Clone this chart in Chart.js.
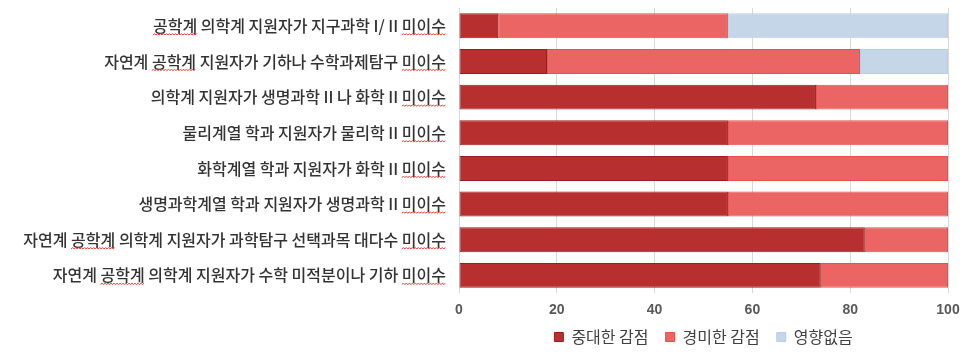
<!DOCTYPE html>
<html><head><meta charset="utf-8">
<script src="https://cdn.jsdelivr.net/npm/chart.js@4"></script>
<style>html,body{margin:0;padding:0;background:#fff;overflow:hidden}</style>
</head><body>
<canvas id="c" width="966" height="358"></canvas>
<script>
const categories = [
  '공학계 의학계 지원자가 지구과학 I/ II 미이수',
  '자연계 공학계 지원자가 기하나 수학과제탐구 미이수',
  '의학계 지원자가 생명과학 II 나 화학 II 미이수',
  '물리계열 학과 지원자가 물리학 II 미이수',
  '화학계열 학과 지원자가 화학 II 미이수',
  '생명과학계열 학과 지원자가 생명과학 II 미이수',
  '자연계 공학계 의학계 지원자가 과학탐구 선택과목 대다수 미이수',
  '자연계 공학계 의학계 지원자가 수학 미적분이나 기하 미이수'
];
const seriesNames = ['중대한 감점', '경미한 감점', '영향없음'];
const majorDeduction = [8, 18, 73, 55, 55, 55, 83, 74];
const minorDeduction = [47, 64, 27, 45, 45, 45, 17, 26];
const noEffect = [45, 18, 0, 0, 0, 0, 0, 0];
const xTickValues = [0, 20, 40, 60, 80, 100];

const CJK = '"Noto Sans CJK KR", "Noto Sans", sans-serif';
const LABEL_SIZE = 16;
const LABEL_WEIGHT = 500;
const LABEL_PAD = 13;

const wavyPlugin = {
  id: 'wavy',
  afterDraw(chart) {
    const sc = chart.scales.y;
    const ctx = chart.ctx;
    ctx.save();
    ctx.font = LABEL_WEIGHT + ' ' + LABEL_SIZE + 'px ' + CJK;
    ctx.strokeStyle = '#e23b3b';
    ctx.lineWidth = 1;
    const rightX = sc.right - LABEL_PAD;
    categories.forEach((lab, i) => {
      const y = sc.getPixelForTick(i) + 9;
      const full = ctx.measureText(lab).width;
      const start = rightX - full;
      const words = [];
      const gi = lab.indexOf('공학계');
      if (gi >= 0) words.push(gi);
      const mi = lab.lastIndexOf('미이수');
      if (mi >= 0) words.push(mi);
      words.forEach(idx => {
        const x0 = start + ctx.measureText(lab.slice(0, idx)).width;
        const x1 = x0 + ctx.measureText(lab.slice(idx, idx + 3)).width;
        ctx.beginPath();
        let up = true;
        ctx.moveTo(x0, y);
        for (let x = x0 + 1.5; x <= x1 + 0.01; x += 1.5) {
          ctx.lineTo(x, up ? y - 1 : y);
          up = !up;
        }
        ctx.stroke();
      });
    });
    ctx.restore();
  }
};

const chart = new Chart(document.getElementById('c'), {
  type: 'bar',
  data: {
    labels: categories,
    datasets: [
      { label: seriesNames[0], data: majorDeduction, backgroundColor: '#b72f2f', borderColor: '#a01c1c', borderWidth: 1, borderSkipped: false },
      { label: seriesNames[1], data: minorDeduction, backgroundColor: '#ec6565', borderColor: '#e84f4f', borderWidth: 1, borderSkipped: false },
      { label: seriesNames[2], data: noEffect, backgroundColor: '#c5d6e8', borderColor: '#b8cfe8', borderWidth: 1, borderSkipped: false }
    ]
  },
  options: {
    indexAxis: 'y',
    responsive: false,
    animation: false,
    devicePixelRatio: 1,
    layout: { padding: { top: 8, right: 18, left: 0, bottom: 3 } },
    datasets: { bar: { barPercentage: 0.7, categoryPercentage: 1.0 } },
    scales: {
      x: {
        stacked: true,
        min: 0, max: 100,
        afterBuildTicks(scale) { scale.ticks = xTickValues.map(v => ({ value: v })); },
        afterFit(scale) { scale.paddingLeft = 0; scale.paddingRight = 0; },
        grid: { color: '#d9d9d9', drawTicks: false, lineWidth: 1 },
        border: { display: false },
        ticks: { color: '#595959', padding: 9, font: { family: '"Liberation Sans", Arial, sans-serif', size: 14, weight: 'bold' } }
      },
      y: {
        stacked: true,
        grid: { display: false, drawTicks: false },
        border: { display: false },
        afterFit(scale) { scale.width = 459; scale.paddingTop = 0; scale.paddingBottom = 0; },
        ticks: { color: '#333333', padding: LABEL_PAD, autoSkip: false, font: { family: CJK, size: LABEL_SIZE, weight: LABEL_WEIGHT } }
      }
    },
    plugins: {
      legend: {
        position: 'bottom',
        fullSize: false,
        labels: {
          boxWidth: 9, boxHeight: 9, padding: 1,
          color: '#404040',
          font: { family: CJK, size: 16 },
          generateLabels(ch) {
            const items = Chart.defaults.plugins.legend.labels.generateLabels(ch);
            items.forEach((it, i) => { if (i < items.length - 1) it.text = it.text + '\u3000'; });
            return items;
          }
        }
      },
      tooltip: { enabled: false }
    }
  },
  plugins: [wavyPlugin]
});
</script>
</body></html>
